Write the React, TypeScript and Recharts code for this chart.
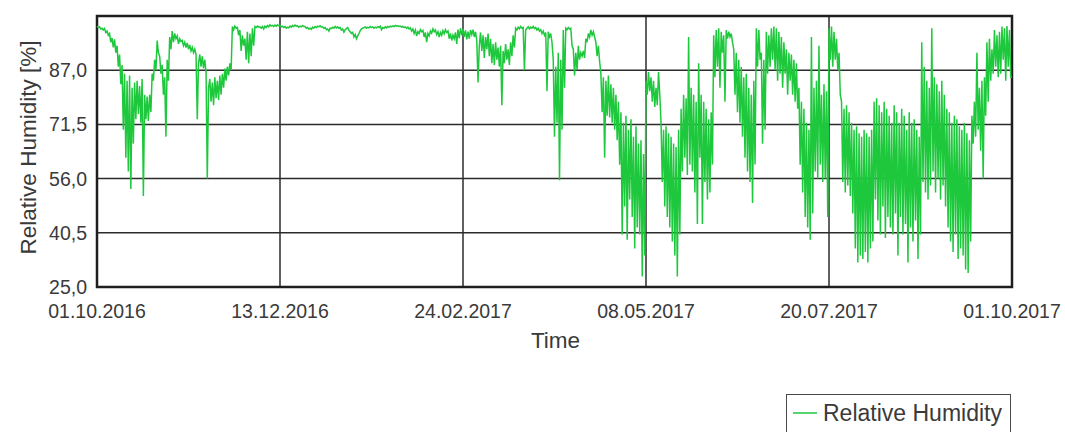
import { LineChart, Line, XAxis, YAxis, CartesianGrid, ReferenceArea, Legend, Label } from "recharts";

// x axis: days since 01.10.2016
const tickDays = [0, 73, 146, 219, 292, 365];
const tickLabels = ["01.10.2016", "13.12.2016", "24.02.2017", "08.05.2017", "20.07.2017", "01.10.2017"];
const yTicks = [25, 40.5, 56, 71.5, 87];
const Y_MIN = 25;
const Y_MAX = 102.5;
const STEP_DAYS = 0.5; // one reading every 12 hours

// relative humidity [%]
const humidity = [
    99.6, 99.2, 99.4, 98.8, 99.0, 98.5, 98.9, 97.8, 98.2, 97.0, 97.5, 95.0, 96.2, 93.5, 95.8, 92.0, 94.0, 88.0, 91.5, 83.0,
    88.5, 70.0, 86.0, 62.0, 84.0, 58.0, 85.5, 53.0, 82.0, 66.0, 83.5, 73.0, 84.0, 74.5, 82.5, 72.0, 84.5, 51.0, 80.0, 73.0,
    79.5, 72.5, 80.0, 75.0, 86.0, 84.0, 90.0, 87.0, 95.5, 92.0, 91.0, 86.0, 88.5, 80.0, 85.0, 68.0, 90.0, 84.0, 96.5, 93.0,
    98.2, 95.0, 97.5, 96.0, 96.8, 94.5, 96.0, 95.2, 95.5, 94.0, 95.0, 93.5, 94.8, 93.0, 94.2, 92.5, 93.5, 92.0, 93.0, 91.5,
    73.0, 89.0, 91.5, 88.0, 91.0, 87.5, 90.0, 86.5, 56.0, 82.0, 84.5, 78.0, 83.5, 77.0, 85.0, 79.0, 84.0, 78.5, 85.5, 80.0,
    86.0, 82.0, 87.5, 84.0, 88.0, 85.5, 89.0, 87.0, 99.5, 98.5, 99.6, 99.0, 99.2, 97.0, 98.5, 92.5, 97.0, 94.0, 96.0, 90.0,
    98.0, 89.0, 97.5, 91.0, 99.0, 94.0, 99.5, 99.2, 99.6, 99.3, 99.4, 99.0, 99.5, 98.8, 99.6, 99.2, 99.8, 99.4, 100, 99.6,
    99.8, 99.5, 99.9, 99.6, 100, 99.7, 99.8, 99.4, 99.6, 99.2, 99.5, 99.0, 99.3, 99.1, 99.6, 99.3, 99.8, 99.5, 99.9, 99.6,
    99.7, 99.3, 99.6, 99.4, 99.8, 99.5, 99.5, 99.0, 99.2, 98.8, 99.0, 98.7, 99.3, 99.0, 99.5, 99.2, 99.6, 99.4, 99.7, 99.3,
    99.4, 99.0, 99.2, 98.6, 98.8, 98.2, 99.0, 98.9, 99.3, 99.0, 99.5, 99.1, 99.4, 99.0, 99.2, 98.5, 98.8, 97.9, 98.6, 98.9,
    99.2, 98.4, 98.0, 97.5, 97.8, 96.5, 97.2, 96.0, 96.8, 97.5, 98.3, 98.8, 99.0, 99.2, 99.4, 99.0, 99.3, 99.1, 99.5, 99.2,
    99.4, 99.0, 99.3, 99.1, 99.5, 99.2, 99.6, 98.6, 99.2, 99.0, 99.4, 99.1, 99.5, 99.3, 99.6, 99.4, 99.7, 99.5, 99.8, 99.6,
    99.7, 99.5, 99.6, 99.3, 99.5, 99.2, 99.4, 99.0, 99.3, 98.8, 99.1, 98.2, 98.8, 97.5, 98.5, 96.8, 98.0, 97.5, 98.6, 98.0,
    98.4, 96.5, 97.8, 95.0, 97.5, 96.8, 98.2, 97.6, 98.8, 98.0, 98.5, 97.2, 98.0, 96.5, 97.8, 97.0, 98.3, 97.4, 98.6, 97.8,
    98.2, 96.0, 97.5, 95.5, 97.0, 96.0, 97.8, 94.5, 98.6, 96.2, 99.0, 97.0, 98.8, 96.5, 98.4, 95.8, 98.0, 96.0, 98.5, 97.2,
    98.6, 96.5, 98.0, 95.5, 83.5, 94.0, 97.8, 92.5, 97.0, 90.5, 96.5, 93.0, 97.5, 91.0, 96.0, 89.0, 94.5, 88.5, 95.0, 90.0,
    93.5, 88.0, 94.0, 77.0, 92.5, 89.0, 94.5, 90.0, 93.0, 88.5, 95.0, 91.0, 97.0, 93.5, 99.0, 98.5, 99.3, 98.8, 99.5, 99.0,
    99.2, 87.0, 98.5, 99.0, 99.4, 98.8, 99.3, 99.0, 99.5, 98.9, 99.2, 98.5, 99.0, 98.2, 98.6, 97.5, 98.2, 97.0, 97.8, 81.0,
    98.0, 96.5, 97.5, 95.0, 90.0, 68.0, 88.0, 72.0, 92.0, 55.5, 90.0, 70.0, 98.5, 82.0, 99.0, 98.6, 99.2, 98.8, 99.0, 94.0,
    93.0, 85.5, 92.0, 87.0, 94.0, 90.0, 92.0, 91.0, 92.5, 90.5, 96.0, 95.0, 97.5, 96.5, 98.5, 97.0, 98.0, 96.5, 95.0, 91.0,
    94.0, 89.5, 86.0, 75.0, 85.0, 62.0, 84.0, 74.0, 85.5, 73.5, 83.0, 72.0, 82.0, 70.0, 80.0, 67.0, 78.0, 60.0, 75.0, 40.0,
    72.0, 48.0, 74.0, 38.5, 70.0, 50.0, 73.0, 45.0, 68.0, 36.0, 71.0, 42.0, 66.0, 40.0, 67.0, 28.0, 63.0, 34.0, 84.0, 80.0,
    86.5, 81.0, 85.0, 78.0, 84.0, 76.5, 82.0, 77.0, 86.5, 80.0, 72.0, 55.0, 70.0, 48.0, 71.0, 45.0, 69.0, 42.0, 68.0, 38.0,
    66.0, 34.0, 65.0, 28.0, 70.0, 40.0, 76.0, 58.0, 80.0, 62.0, 79.0, 57.0, 96.5, 60.0, 82.0, 58.0, 80.0, 52.0, 78.0, 43.0,
    89.0, 62.0, 80.0, 43.0, 78.0, 55.0, 76.0, 50.0, 73.0, 52.0, 75.0, 60.0, 97.0, 85.0, 98.5, 88.0, 99.0, 82.0, 98.0, 92.0,
    97.0, 78.0, 98.5, 96.0, 98.0, 96.5, 97.5, 95.0, 93.0, 80.0, 92.0, 75.0, 90.0, 72.0, 88.0, 68.0, 85.0, 62.0, 86.0, 58.0,
    82.0, 55.0, 80.0, 49.0, 84.0, 60.0, 99.0, 88.0, 98.5, 90.0, 92.0, 66.0, 90.0, 70.0, 98.0, 86.0, 97.0, 88.0, 99.0, 90.0,
    99.5, 87.0, 99.0, 84.0, 98.0, 86.0, 96.5, 82.0, 95.0, 86.0, 93.0, 80.0, 92.0, 84.0, 91.5, 80.0, 90.0, 78.0, 89.0, 76.0,
    82.0, 60.0, 78.0, 52.0, 76.0, 45.0, 72.0, 42.0, 70.0, 38.5, 96.5, 46.0, 82.0, 58.0, 84.0, 56.0, 94.0, 60.0, 80.0, 55.0,
    83.0, 56.0, 81.0, 45.0, 99.0, 90.0, 99.5, 88.0, 98.0, 90.0, 96.0, 87.0, 92.0, 80.0, 78.0, 55.0, 76.0, 52.0, 77.0, 54.0,
    75.0, 51.0, 72.0, 46.0, 70.0, 36.0, 71.0, 32.0, 69.0, 34.0, 68.0, 33.0, 70.0, 35.0, 69.0, 32.0, 68.0, 36.0, 70.0, 38.0,
    78.0, 50.0, 79.0, 44.0, 77.0, 40.0, 75.0, 48.0, 78.0, 39.0, 76.0, 45.0, 74.0, 42.0, 72.0, 40.0, 77.0, 46.0, 75.0, 34.0,
    72.0, 45.0, 76.0, 40.0, 74.0, 43.0, 70.0, 32.0, 75.0, 42.0, 72.0, 38.0, 73.0, 44.0, 70.0, 33.0, 68.0, 40.0, 95.0, 55.0,
    88.0, 52.0, 84.0, 50.0, 82.0, 54.0, 99.0, 58.0, 85.0, 52.0, 83.0, 56.0, 81.0, 50.0, 84.0, 54.0, 80.0, 48.0, 76.0, 42.0,
    75.0, 38.0, 72.0, 35.0, 74.0, 40.0, 73.0, 33.0, 71.0, 36.0, 70.0, 34.0, 72.0, 30.0, 69.0, 29.0, 67.0, 38.0, 74.0, 66.0,
    78.0, 68.0, 92.0, 70.0, 82.0, 64.0, 84.0, 56.0, 85.0, 74.0, 95.0, 78.0, 96.0, 84.0, 93.0, 86.0, 98.5, 88.0, 97.0, 85.0,
    98.0, 86.0, 99.5, 90.0, 99.0, 84.0, 99.6, 88.0, 98.5, 85.0, 85.0,
];

const SERIES_NAME = "Relative Humidity";
const LINE_COLOR = "#1ec83c";
const TEXT_COLOR = "#3a3a3a";
const FONT = "'Liberation Sans', Arial, sans-serif";

const data = humidity.map((v, i) => ({ day: i * STEP_DAYS, rh: v }));

const fmtY = (v: number) => v.toFixed(1).replace(".", ",");
const fmtX = (v: number) => tickLabels[tickDays.indexOf(v)] ?? "";

export default function App() {
    return (
        <div style={{ position: "absolute", left: 0, top: 0, width: 1065, height: 432, background: "#fff", fontFamily: FONT }}>
            <LineChart width={1065} height={432} data={data} margin={{ top: 16, right: 53, left: 37, bottom: 105 }}>
                <CartesianGrid stroke="#2b2b2b" strokeWidth={1.5} horizontalValues={yTicks} verticalValues={tickDays} />
                <XAxis
                    type="number"
                    dataKey="day"
                    domain={[0, 365]}
                    ticks={tickDays}
                    tickFormatter={fmtX}
                    axisLine={false}
                    tickLine={false}
                    tickSize={0}
                    tickMargin={17}
                    height={40}
                    interval={0}
                    tick={{ fontSize: 19.5, fill: TEXT_COLOR, fontFamily: FONT }}
                >
                    <Label
                        content={({ viewBox }: any) => (
                            <text x={viewBox.x + viewBox.width / 2 + 1} y={viewBox.y + 53} textAnchor="middle" dominantBaseline="central" fontSize={22.5} fill={TEXT_COLOR} fontFamily={FONT}>
                                Time
                            </text>
                        )}
                    />
                </XAxis>
                <YAxis
                    type="number"
                    domain={[Y_MIN, Y_MAX]}
                    ticks={yTicks}
                    tickFormatter={fmtY}
                    axisLine={false}
                    tickLine={false}
                    tickSize={0}
                    tickMargin={10}
                    width={60}
                    interval={0}
                    tick={{ fontSize: 19.5, fill: TEXT_COLOR, fontFamily: FONT }}
                >
                    <Label
                        content={({ viewBox }: any) => {
                            const cx = viewBox.x - 9;
                            const cy = viewBox.y + viewBox.height / 2 - 4;
                            return (
                                <text x={cx} y={cy} transform={`rotate(-90 ${cx} ${cy})`} textAnchor="middle" dominantBaseline="central" fontSize={22.5} fill={TEXT_COLOR} fontFamily={FONT}>
                                    Relative Humidity [%]
                                </text>
                            );
                        }}
                    />
                </YAxis>
                <Line type="linear" dataKey="rh" name={SERIES_NAME} stroke={LINE_COLOR} strokeWidth={1.5} dot={false} activeDot={false} isAnimationActive={false} />
                <ReferenceArea x1={0} x2={365} y1={Y_MIN} y2={Y_MAX} fill="none" stroke="#1e1e1e" strokeWidth={2.5} ifOverflow="extendDomain" />
                <Legend
                    layout="vertical"
                    align="center"
                    verticalAlign="middle"
                    wrapperStyle={{ left: 786, top: 394, width: 225 }}
                    content={() => (
                        <div style={{ boxSizing: "border-box", width: 225, height: 60, border: "1.5px solid #4a4a4a", display: "flex", alignItems: "flex-start", paddingTop: 4, paddingLeft: 6, fontFamily: FONT }}>
                            <svg width={24} height={26} style={{ marginRight: 6 }}>
                                <line x1={0} y1={14} x2={24} y2={14} stroke={LINE_COLOR} strokeWidth={1.5} />
                            </svg>
                            <span style={{ fontSize: 23, color: TEXT_COLOR, lineHeight: "28px" }}>{SERIES_NAME}</span>
                        </div>
                    )}
                />
            </LineChart>
        </div>
    );
}
